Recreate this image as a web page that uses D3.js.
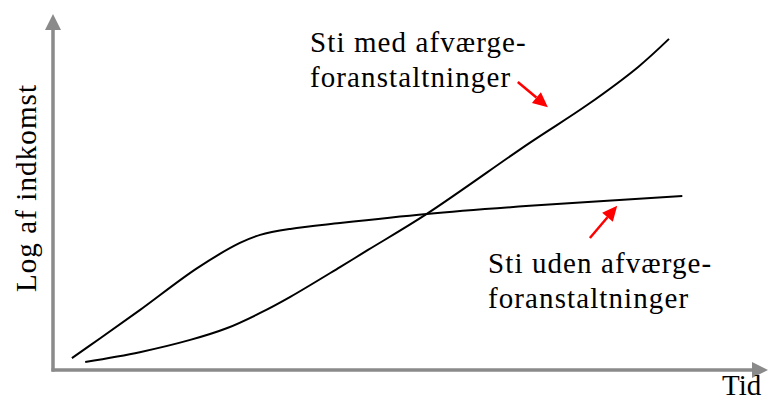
<!DOCTYPE html>
<html>
<head>
<meta charset="utf-8">
<script src="https://cdn.jsdelivr.net/npm/d3@7"></script>
<style>
  body { margin: 0; background: #fff; }
  svg text { font-family: "Liberation Serif", "Times New Roman", serif; fill: #000; font-size: 29px; letter-spacing: 1.1px; }
</style>
</head>
<body>
<div id="chart"></div>
<script>
// time (0-100) and log income (0-100)
var tidUden = [2.7, 6.7, 12.4, 20.6, 26.7, 29.6, 33.9, 41, 53.4, 68.1, 89.9]
var indkomstUden = [3.4, 9.0, 17.1, 29.1, 36.3, 38.6, 40.3, 42, 44.6, 46.9, 49.7]

var tidMed = [4.6, 12.4, 19.6, 24.9, 29.6, 33.9, 41, 45, 53.4, 68.1, 76.3, 83.6, 88]
var indkomstMed = [2.3, 5.1, 8.6, 12, 16.3, 20.9, 29.4, 34.3, 44.6, 64.9, 75.7, 86.6, 94.6]

var width = 768, height = 401

var svg = d3.select("#chart")
  .append("svg")
  .attr("width", width)
  .attr("height", height)

var x = d3.scaleLinear().domain([0, 100]).range([53, 753])
var y = d3.scaleLinear().domain([0, 100]).range([370, 20])

var axisColor = "#8a8a8a"

// y axis with arrow
svg.append("line")
  .attr("x1", x(0)).attr("y1", y(0) + 1.5)
  .attr("x2", x(0)).attr("y2", 28)
  .attr("stroke", axisColor).attr("stroke-width", 3.5)
svg.append("path")
  .attr("d", `M${x(0)},14 L${x(0) - 8},30 L${x(0) + 8},30 Z`)
  .attr("fill", axisColor)

// x axis with arrow
svg.append("line")
  .attr("x1", x(0) - 1.5).attr("y1", y(0))
  .attr("x2", 755).attr("y2", y(0))
  .attr("stroke", axisColor).attr("stroke-width", 3.5)
svg.append("path")
  .attr("d", `M768,${y(0)} L752,${y(0) - 8} L752,${y(0) + 8} Z`)
  .attr("fill", axisColor)

// the two paths
var line = d3.line()
  .x(d => x(d[0]))
  .y(d => y(d[1]))
  .curve(d3.curveCatmullRom.alpha(0.5))

var uden = tidUden.map((t, i) => [t, indkomstUden[i]])
var med = tidMed.map((t, i) => [t, indkomstMed[i]])

svg.selectAll(".sti")
  .data([uden, med])
  .enter()
  .append("path")
  .attr("class", "sti")
  .attr("d", line)
  .attr("fill", "none")
  .attr("stroke", "#000")
  .attr("stroke-width", 2)

// axis labels
svg.append("text")
  .attr("transform", "translate(36,188) rotate(-90)")
  .attr("text-anchor", "middle")
  .text("Log af indkomst")

svg.append("text")
  .attr("x", 722).attr("y", 395)
  .style("letter-spacing", "0px")
  .text("Tid")

// annotations: text lines and red arrows (from -> to, in data units)
var labels = [
  { lines: ["Sti med afværge-", "foranstaltninger"], x: 310, y: 52 },
  { lines: ["Sti uden afværge-", "foranstaltninger"], x: 488, y: 273 }
]
var arrows = [
  { from: [66.4, 82.3], to: [70.7, 75.1] },
  { from: [76.7, 37.7], to: [80.6, 46.9] }
]

labels.forEach(function (l) {
  var t = svg.append("text")
    .attr("x", l.x).attr("y", l.y)
  t.selectAll("tspan")
    .data(l.lines)
    .enter()
    .append("tspan")
    .attr("x", l.x)
    .attr("dy", (d, i) => i === 0 ? 0 : 35)
    .text(d => d)
})

arrows.forEach(function (a) {
  var x1 = x(a.from[0]), y1 = y(a.from[1])
  var x2 = x(a.to[0]), y2 = y(a.to[1])
  var ang = Math.atan2(y2 - y1, x2 - x1)
  var len = 15, half = 7
  var bx = x2 - len * Math.cos(ang), by = y2 - len * Math.sin(ang)
  svg.append("line")
    .attr("x1", x1).attr("y1", y1)
    .attr("x2", bx).attr("y2", by)
    .attr("stroke", "#ff0000").attr("stroke-width", 2.5)
  var px = -Math.sin(ang) * half, py = Math.cos(ang) * half
  svg.append("path")
    .attr("d", `M${x2},${y2} L${bx + px},${by + py} L${bx - px},${by - py} Z`)
    .attr("fill", "#ff0000")
})
</script>
</body>
</html>
